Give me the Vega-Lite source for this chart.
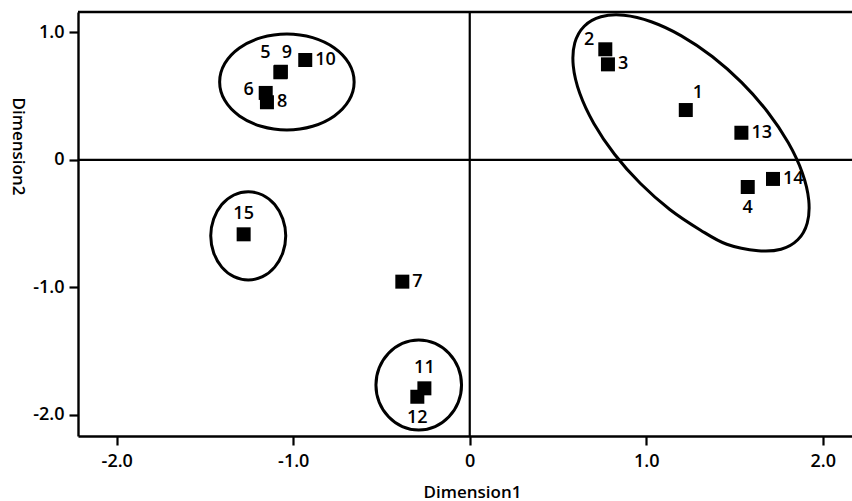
{
  "$schema": "https://vega.github.io/schema/vega-lite/v6.json",
  "autosize": {"type": "none"},
  "padding": {"left": 78, "top": 12, "right": 0, "bottom": 65},
  "width": 774,
  "height": 424,
  "background": "white",
  "view": {"stroke": null},
  "config": {
    "axis": {
      "domain": true, "domainColor": "black", "domainWidth": 2.4,
      "ticks": true, "tickColor": "black", "tickWidth": 2.2, "tickSize": 9,
      "grid": false,
      "labelFont": "Open Sans", "labelFontSize": 18, "labelColor": "black", "labelFontWeight": 600,
      "titleFont": "Open Sans", "titleFontSize": 17, "titleFontWeight": 600, "titleColor": "black"
    },
    "text": {"font": "Open Sans", "fontSize": 18, "color": "black", "fontWeight": 600}
  },
  "datasets": {
    "pts": [
      {"id": "1", "x": 1.224, "y": 0.390, "pos": "ur"},
      {"id": "2", "x": 0.768, "y": 0.866, "pos": "ul"},
      {"id": "3", "x": 0.783, "y": 0.748, "pos": "r"},
      {"id": "4", "x": 1.575, "y": -0.213, "pos": "b"},
      {"id": "5", "x": -1.073, "y": 0.686, "pos": "al"},
      {"id": "6", "x": -1.156, "y": 0.524, "pos": "l"},
      {"id": "7", "x": -0.382, "y": -0.955, "pos": "r"},
      {"id": "8", "x": -1.149, "y": 0.451, "pos": "r"},
      {"id": "9", "x": -1.070, "y": 0.690, "pos": "ar"},
      {"id": "10", "x": -0.932, "y": 0.782, "pos": "r"},
      {"id": "11", "x": -0.257, "y": -1.791, "pos": "a"},
      {"id": "12", "x": -0.297, "y": -1.857, "pos": "b"},
      {"id": "13", "x": 1.539, "y": 0.212, "pos": "r"},
      {"id": "14", "x": 1.718, "y": -0.150, "pos": "r"},
      {"id": "15", "x": -1.281, "y": -0.584, "pos": "a"}
    ],
    "ell": [
      {"g": "A", "i": 0, "x": -0.655, "y": 0.610},
      {"g": "A", "i": 1, "x": -0.684, "y": 0.754},
      {"g": "A", "i": 2, "x": -0.767, "y": 0.876},
      {"g": "A", "i": 3, "x": -0.890, "y": 0.957},
      {"g": "A", "i": 4, "x": -1.036, "y": 0.986},
      {"g": "A", "i": 5, "x": -1.182, "y": 0.957},
      {"g": "A", "i": 6, "x": -1.305, "y": 0.876},
      {"g": "A", "i": 7, "x": -1.388, "y": 0.754},
      {"g": "A", "i": 8, "x": -1.417, "y": 0.610},
      {"g": "A", "i": 9, "x": -1.388, "y": 0.466},
      {"g": "A", "i": 10, "x": -1.305, "y": 0.344},
      {"g": "A", "i": 11, "x": -1.182, "y": 0.263},
      {"g": "A", "i": 12, "x": -1.036, "y": 0.234},
      {"g": "A", "i": 13, "x": -0.890, "y": 0.263},
      {"g": "A", "i": 14, "x": -0.767, "y": 0.344},
      {"g": "A", "i": 15, "x": -0.684, "y": 0.466},
      {"g": "B", "i": 0, "x": -1.0425, "y": -0.596},
      {"g": "B", "i": 1, "x": -1.059, "y": -0.464},
      {"g": "B", "i": 2, "x": -1.105, "y": -0.351},
      {"g": "B", "i": 3, "x": -1.174, "y": -0.276},
      {"g": "B", "i": 4, "x": -1.255, "y": -0.250},
      {"g": "B", "i": 5, "x": -1.336, "y": -0.276},
      {"g": "B", "i": 6, "x": -1.405, "y": -0.351},
      {"g": "B", "i": 7, "x": -1.451, "y": -0.464},
      {"g": "B", "i": 8, "x": -1.4675, "y": -0.596},
      {"g": "B", "i": 9, "x": -1.451, "y": -0.728},
      {"g": "B", "i": 10, "x": -1.405, "y": -0.841},
      {"g": "B", "i": 11, "x": -1.336, "y": -0.916},
      {"g": "B", "i": 12, "x": -1.255, "y": -0.942},
      {"g": "B", "i": 13, "x": -1.174, "y": -0.916},
      {"g": "B", "i": 14, "x": -1.105, "y": -0.841},
      {"g": "B", "i": 15, "x": -1.059, "y": -0.728},
      {"g": "C", "i": 0, "x": -0.0465, "y": -1.765},
      {"g": "C", "i": 1, "x": -0.065, "y": -1.630},
      {"g": "C", "i": 2, "x": -0.118, "y": -1.516},
      {"g": "C", "i": 3, "x": -0.196, "y": -1.439},
      {"g": "C", "i": 4, "x": -0.289, "y": -1.412},
      {"g": "C", "i": 5, "x": -0.382, "y": -1.439},
      {"g": "C", "i": 6, "x": -0.460, "y": -1.516},
      {"g": "C", "i": 7, "x": -0.513, "y": -1.630},
      {"g": "C", "i": 8, "x": -0.5315, "y": -1.765},
      {"g": "C", "i": 9, "x": -0.513, "y": -1.900},
      {"g": "C", "i": 10, "x": -0.460, "y": -2.014},
      {"g": "C", "i": 11, "x": -0.382, "y": -2.091},
      {"g": "C", "i": 12, "x": -0.289, "y": -2.118},
      {"g": "C", "i": 13, "x": -0.196, "y": -2.091},
      {"g": "C", "i": 14, "x": -0.118, "y": -2.014},
      {"g": "C", "i": 15, "x": -0.065, "y": -1.900},
      {"g": "D", "i": 0, "x": 1.8585, "y": -0.6267},
      {"g": "D", "i": 1, "x": 1.7637, "y": -0.7008},
      {"g": "D", "i": 2, "x": 1.6342, "y": -0.7127},
      {"g": "D", "i": 3, "x": 1.4561, "y": -0.6618},
      {"g": "D", "i": 4, "x": 1.3080, "y": -0.5515},
      {"g": "D", "i": 5, "x": 1.1334, "y": -0.3893},
      {"g": "D", "i": 6, "x": 0.9671, "y": -0.1862},
      {"g": "D", "i": 7, "x": 0.8203, "y": 0.0438},
      {"g": "D", "i": 8, "x": 0.7030, "y": 0.2853},
      {"g": "D", "i": 9, "x": 0.6232, "y": 0.5216},
      {"g": "D", "i": 10, "x": 0.5865, "y": 0.7365},
      {"g": "D", "i": 11, "x": 0.5951, "y": 0.9157},
      {"g": "D", "i": 12, "x": 0.6486, "y": 1.0468},
      {"g": "D", "i": 13, "x": 0.7434, "y": 1.1208},
      {"g": "D", "i": 14, "x": 0.8729, "y": 1.1328},
      {"g": "D", "i": 15, "x": 1.0283, "y": 1.0819},
      {"g": "D", "i": 16, "x": 1.1991, "y": 0.9716},
      {"g": "D", "i": 17, "x": 1.3737, "y": 0.8093},
      {"g": "D", "i": 18, "x": 1.5400, "y": 0.6063},
      {"g": "D", "i": 19, "x": 1.6868, "y": 0.3763},
      {"g": "D", "i": 20, "x": 1.8041, "y": 0.1347},
      {"g": "D", "i": 21, "x": 1.8839, "y": -0.1015},
      {"g": "D", "i": 22, "x": 1.9206, "y": -0.3165},
      {"g": "D", "i": 23, "x": 1.9120, "y": -0.4956}
    ],
    "frame": [{"top": 1.1583, "zero": 0}]
  },
  "layer": [
    {
      "data": {"name": "ell"},
      "mark": {"type": "line", "interpolate": "cardinal-closed", "stroke": "black", "strokeWidth": 3},
      "encoding": {
        "x": {
          "field": "x", "type": "quantitative",
          "scale": {"domain": [-2.2195, 2.1657], "nice": false, "zero": false},
          "axis": {
            "values": [-2, -1, 0, 1, 2],
            "labelExpr": "datum.value == 0 ? '0' : (datum.value < 0 ? '-' : '') + format(abs(datum.value), '.1f')",
            "labelPadding": 7, "labelFontSize": 18, "labelFont": "Open Sans",
            "title": "Dimension1", "titleFontSize": 17, "titleFont": "Open Sans",
            "titleX": 394, "titleY": 61, "titleAlign": "center", "titleBaseline": "alphabetic", "titleAnchor": null
          }
        },
        "y": {
          "field": "y", "type": "quantitative",
          "scale": {"domain": [-2.1646, 1.1583], "nice": false, "zero": false},
          "axis": {
            "values": [-2, -1, 0, 1],
            "labelExpr": "datum.value == 0 ? '0' : (datum.value < 0 ? '-' : '') + format(abs(datum.value), '.1f')",
            "labelPadding": 5, "labelFontSize": 18, "labelFont": "Open Sans",
            "title": "Dimension2", "titleFontSize": 17, "titleFont": "Open Sans",
            "titleAngle": 90, "titleX": -61, "titleY": 134, "titleAlign": "center", "titleBaseline": "middle", "titleAnchor": null
          }
        },
        "detail": {"field": "g"},
        "order": {"field": "i", "type": "quantitative"}
      }
    },
    {
      "data": {"name": "frame"},
      "mark": {"type": "rule", "stroke": "black", "strokeWidth": 2.4},
      "encoding": {"y": {"field": "top", "type": "quantitative"}}
    },
    {
      "data": {"name": "frame"},
      "mark": {"type": "rule", "stroke": "black", "strokeWidth": 2.2},
      "encoding": {"y": {"field": "zero", "type": "quantitative"}}
    },
    {
      "data": {"name": "frame"},
      "mark": {"type": "rule", "stroke": "black", "strokeWidth": 2.2},
      "encoding": {"x": {"field": "zero", "type": "quantitative"}}
    },
    {
      "data": {"name": "pts"},
      "mark": {"type": "point", "shape": "square", "filled": true, "color": "black", "size": 196, "opacity": 1},
      "encoding": {
        "x": {"field": "x", "type": "quantitative"},
        "y": {"field": "y", "type": "quantitative"}
      }
    },
    {
      "data": {"name": "pts"},
      "transform": [{"filter": "datum.pos == 'r'"}],
      "mark": {"type": "text", "align": "left", "baseline": "middle", "dx": 10, "dy": 0},
      "encoding": {"x": {"field": "x", "type": "quantitative"}, "y": {"field": "y", "type": "quantitative"}, "text": {"field": "id"}}
    },
    {
      "data": {"name": "pts"},
      "transform": [{"filter": "datum.pos == 'l'"}],
      "mark": {"type": "text", "align": "right", "baseline": "middle", "dx": -12, "dy": -3},
      "encoding": {"x": {"field": "x", "type": "quantitative"}, "y": {"field": "y", "type": "quantitative"}, "text": {"field": "id"}}
    },
    {
      "data": {"name": "pts"},
      "transform": [{"filter": "datum.pos == 'ul'"}],
      "mark": {"type": "text", "align": "right", "baseline": "middle", "dx": -11, "dy": -9},
      "encoding": {"x": {"field": "x", "type": "quantitative"}, "y": {"field": "y", "type": "quantitative"}, "text": {"field": "id"}}
    },
    {
      "data": {"name": "pts"},
      "transform": [{"filter": "datum.pos == 'al'"}],
      "mark": {"type": "text", "align": "center", "baseline": "middle", "dx": -15, "dy": -19},
      "encoding": {"x": {"field": "x", "type": "quantitative"}, "y": {"field": "y", "type": "quantitative"}, "text": {"field": "id"}}
    },
    {
      "data": {"name": "pts"},
      "transform": [{"filter": "datum.pos == 'ar'"}],
      "mark": {"type": "text", "align": "center", "baseline": "middle", "dx": 6, "dy": -19},
      "encoding": {"x": {"field": "x", "type": "quantitative"}, "y": {"field": "y", "type": "quantitative"}, "text": {"field": "id"}}
    },
    {
      "data": {"name": "pts"},
      "transform": [{"filter": "datum.pos == 'ur'"}],
      "mark": {"type": "text", "align": "center", "baseline": "middle", "dx": 12, "dy": -17},
      "encoding": {"x": {"field": "x", "type": "quantitative"}, "y": {"field": "y", "type": "quantitative"}, "text": {"field": "id"}}
    },
    {
      "data": {"name": "pts"},
      "transform": [{"filter": "datum.pos == 'a'"}],
      "mark": {"type": "text", "align": "center", "baseline": "middle", "dx": 0, "dy": -20},
      "encoding": {"x": {"field": "x", "type": "quantitative"}, "y": {"field": "y", "type": "quantitative"}, "text": {"field": "id"}}
    },
    {
      "data": {"name": "pts"},
      "transform": [{"filter": "datum.pos == 'b'"}],
      "mark": {"type": "text", "align": "center", "baseline": "middle", "dx": 0, "dy": 21},
      "encoding": {"x": {"field": "x", "type": "quantitative"}, "y": {"field": "y", "type": "quantitative"}, "text": {"field": "id"}}
    }
  ]
}
